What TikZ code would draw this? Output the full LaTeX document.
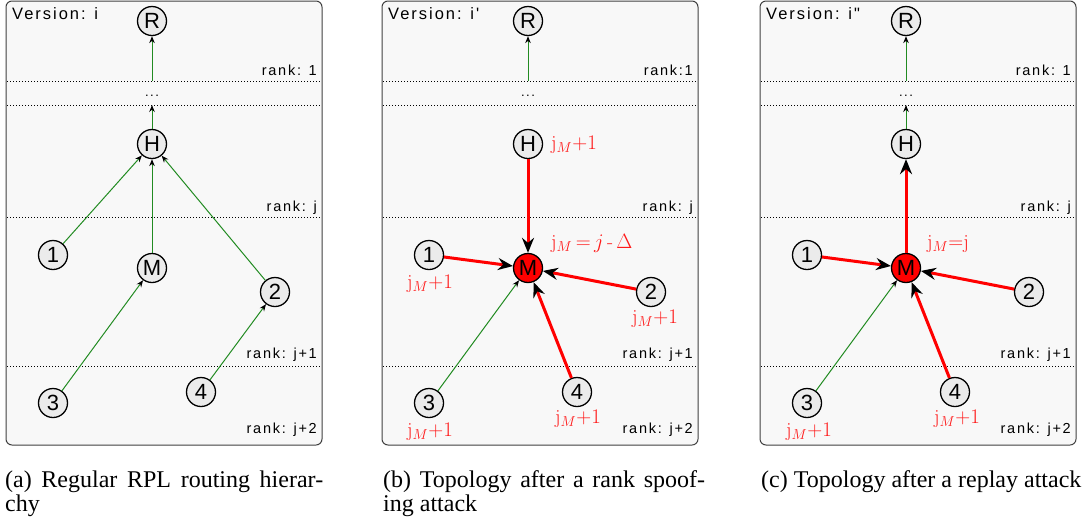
\documentclass[tikz,border=0pt]{standalone}
\usepackage{fontspec}
\usetikzlibrary{arrows.meta}

\newfontfamily\diagfont[LetterSpace=12]{Liberation Sans}
\newfontfamily\nodefont{Liberation Sans}
\newfontfamily\capfont{Liberation Serif}

\definecolor{linkgreen}{RGB}{34,139,34}
\definecolor{panelfill}{RGB}{248,248,248}
\definecolor{panelrim}{RGB}{64,64,64}
\definecolor{nodefill}{RGB}{235,235,235}
\definecolor{attackred}{RGB}{255,0,0}
\definecolor{labelred}{RGB}{255,25,25}

\tikzset{
  panel/.style={draw=panelrim, fill=panelfill, line width=1pt, rounded corners=6pt},
  sensor/.style={circle, draw=black, line width=1.3pt, fill=nodefill, minimum size=29pt,
    inner sep=0pt, font=\nodefont\fontsize{22}{22}\selectfont},
  rogue/.style={sensor, fill=attackred},
  rankline/.style={line width=0.8pt, dash pattern=on 1pt off 2pt},
  ranktext/.style={anchor=base east, inner sep=0pt, font=\diagfont\fontsize{14.5}{14.5}\selectfont},
  vertext/.style={anchor=base west, inner sep=0pt, font=\diagfont\fontsize{16.5}{16.5}\selectfont},
  link/.style={linkgreen, line width=1pt, -{Stealth[length=7pt,width=5.5pt,color=black]}},
  spoof/.style={attackred, line width=3pt, -{Stealth[length=15pt,width=12pt,inset=5pt,color=black]}},
  rlabel/.style={text=labelred, inner sep=0pt, font=\fontsize{20}{20}\selectfont},
  caption/.style={anchor=base west, inner sep=0pt, font=\capfont\fontsize{24}{24}\selectfont},
}

% frame, rank bands and the fixed nodes of one panel
% #1 name prefix, #2 version string, #3 label of the first rank
\newcommand\rplpanel[3]{%
  \draw[panel] (6,1) rectangle (322,445);
  \draw[rankline] (7,81) -- (321,81);
  \draw[rankline] (7,105) -- (321,105);
  \draw[rankline] (7,217) -- (321,217);
  \draw[rankline] (7,366) -- (321,366);
  \node[vertext] (#1ver) at (12,19) {Version: #2};
  \node[ranktext] (#1rk1) at (317,75) {#3};
  \node[ranktext] (#1rkj) at (317,211) {rank: j};
  \node[ranktext] (#1rkj1) at (317,358) {rank: j+1};
  \node[ranktext] (#1rkj2) at (317,433) {rank: j+2};
  \node[anchor=base, inner sep=0pt, font=\diagfont\fontsize{13}{13}\selectfont] (#1gap) at (152,96) {...};
  \coordinate (#1top) at (152,81);
  \coordinate (#1dots) at (152,105);
  \node[sensor] (#1R) at (152,21) {R};
  \node[sensor] (#1H) at (152,144) {H};
  \node[sensor] (#11) at (53,255) {1};
  \node[sensor] (#12) at (275,292) {2};
  \node[sensor] (#13) at (53,403) {3};
  \node[sensor] (#14) at (201,392) {4};
  \draw[link] (#1top) -- (#1R);
}

\begin{document}
\begin{tikzpicture}[x=1pt, y=-1pt]
\useasboundingbox (0,0) rectangle (1086,523);

% (a) regular hierarchy
\begin{scope}
  \rplpanel{a}{i}{rank: 1}
  \node[sensor] (aM) at (152,268) {M};
  \draw[link] (aH) -- (adots);
  \draw[link] (a1) -- (aH);
  \draw[link] (aM) -- (aH);
  \draw[link] (a2) -- (aH);
  \draw[link] (a3) -- (aM);
  \draw[link] (a4) -- (a2);
\end{scope}

% (b) rank spoofing
\begin{scope}[shift={(376,0)}]
  \rplpanel{b}{i\symbol{39}}{rank:1}
  \node[rogue] (bM) at (152,268) {M};
  \draw[spoof] (bH) -- (bM);
  \draw[spoof] (b1) -- (bM);
  \draw[spoof] (b2) -- (bM);
  \draw[spoof] (b4) -- (bM);
  \draw[link] (b3) -- (bM);
  \node[rlabel, anchor=west] (bHl) at (175,145) {$\mathrm{j}_M{+}1$};
  \node[rlabel, anchor=west] (bMl) at (175,243) {$\mathrm{j}_M\,{=}\,j$\,\mbox{-}\,$\Delta$};
  \node[rlabel] (b1l) at (54,284) {$\mathrm{j}_M{+}1$};
  \node[rlabel] (b2l) at (279,319) {$\mathrm{j}_M{+}1$};
  \node[rlabel] (b3l) at (54,432) {$\mathrm{j}_M{+}1$};
  \node[rlabel] (b4l) at (202,419) {$\mathrm{j}_M{+}1$};
\end{scope}

% (c) replay
\begin{scope}[shift={(754,0)}]
  \rplpanel{c}{i\symbol{34}}{rank: 1}
  \node[rogue] (cM) at (152,268) {M};
  \draw[link] (cH) -- (cdots);
  \draw[spoof] (cM) -- (cH);
  \draw[spoof] (c1) -- (cM);
  \draw[spoof] (c2) -- (cM);
  \draw[spoof] (c4) -- (cM);
  \draw[link] (c3) -- (cM);
  \node[rlabel, anchor=west] (cMl) at (173,244) {$\mathrm{j}_M{=}\mathrm{j}$};
  \node[rlabel] (c3l) at (55,432) {$\mathrm{j}_M{+}1$};
  \node[rlabel] (c4l) at (203,419) {$\mathrm{j}_M{+}1$};
\end{scope}

% sub-captions
\node[caption] (capa1) at (5,487) {\makebox[318pt][s]{(a) Regular RPL routing hierar-}};
\node[caption] (capa2) at (5,511) {chy};
\node[caption] (capb1) at (383,487) {\makebox[322pt][s]{(b) Topology after a rank spoof-}};
\node[caption] (capb2) at (383,511) {ing attack};
\node[caption] (capc1) at (761,487) {(c) Topology after a replay attack};
\end{tikzpicture}
\end{document}
